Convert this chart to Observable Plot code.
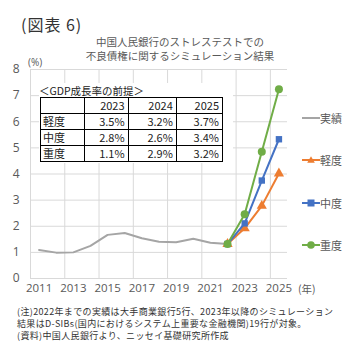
<!DOCTYPE html>
<html><head><meta charset="utf-8">
<script src="https://cdn.jsdelivr.net/npm/d3@7"></script>
<script src="https://cdn.jsdelivr.net/npm/@observablehq/plot@0.6"></script>
<style>
body{margin:0;background:#fff;}
#wrap{position:relative;width:356px;height:359px;font-family:"Noto Sans CJK JP","Noto Sans",sans-serif;color:#595959;overflow:hidden;background:#fff}
#wrap svg{position:absolute;left:0;top:0}
.abs{position:absolute;white-space:nowrap}
table.gdp{border-collapse:collapse;font-size:11px;color:#222;}
table.gdp td{border:1.5px solid #000;padding:0 3px;height:15px;line-height:15px;text-align:right}
table.gdp td.lab{text-align:left;padding-left:2px}
</style></head><body><div id="wrap"></div>
<script>
// ---- data ----
const actualYears = [2011,2012,2013,2014,2015,2016,2017,2018,2019,2020,2021,2022];
const actualValues = [1.09,0.99,1.00,1.25,1.67,1.74,1.54,1.41,1.39,1.52,1.37,1.32];
const scenarioYears = [2022,2023,2024,2025];
const mildValues = [1.32,1.92,2.78,4.02];
const moderateValues = [1.32,2.11,3.75,5.33];
const severeValues = [1.32,2.46,4.85,7.24];
const seriesNames = ["実績","軽度","中度","重度"];
const seriesColors = ["#a5a5a5","#ed7d31","#4472c4","#70ad47"];
const seriesSymbols = [null,"triangle","square","circle"];
const xTickYears = [2011,2013,2015,2017,2019,2021,2023,2025];
const yTicks = [0,1,2,3,4,5,6,7,8];
const gdpYears = ["2023","2024","2025"];
const gdpScenarios = ["軽度","中度","重度"];
const gdpMild = ["3.5%","3.2%","3.7%"];
const gdpModerate = ["2.8%","2.6%","3.4%"];
const gdpSevere = ["1.1%","2.9%","3.2%"];

const figTitle = "(図表 6)";
const chartTitle1 = "中国人民銀行のストレステストでの";
const chartTitle2 = "不良債権に関するシミュレーション結果";
const tableTitle = "＜GDP成長率の前提＞";
const yUnit = "(%)";
const xUnit = "(年)";
const notes = [
  "(注)2022年までの実績は大手商業銀行5行、2023年以降のシミュレーション",
  "結果はD-SIBs(国内におけるシステム上重要な金融機関)19行が対象。",
  "(資料)中国人民銀行より、ニッセイ基礎研究所作成"
];

// ---- build ----
const actual = actualYears.map((x,i)=>({x, y: actualValues[i]}));
const mk = vals => scenarioYears.map((x,i)=>({x, y: vals[i]}));
const mild = mk(mildValues), moderate = mk(moderateValues), severe = mk(severeValues);
const gridX = xTickYears.map(y => y - 0.5);
const font = "Open Sans, Noto Sans, sans-serif";

const chart = Plot.plot({
  width: 356, height: 359,
  marginLeft: 30, marginRight: 69, marginTop: 69, marginBottom: 81,
  style: {background: "transparent", fontFamily: font},
  x: {type: "linear", domain: [2010.5, 2025.5]},
  y: {domain: [0, 8]},
  marks: [
    Plot.ruleY(yTicks, {stroke: "#d9d9d9", strokeWidth: 1}),
    Plot.ruleX(gridX, {stroke: "#d9d9d9", strokeWidth: 1}),
    Plot.axisX(xTickYears, {tickSize: 0, tickPadding: 5, fontSize: 11.5, fill: "#595959", tickFormat: d => String(d), label: null}),
    Plot.axisY(yTicks, {tickSize: 0, tickPadding: 11, fontSize: 12, fill: "#595959", label: null}),
    Plot.line(actual, {x: "x", y: "y", stroke: seriesColors[0], strokeWidth: 2}),
    Plot.line(mild, {x: "x", y: "y", stroke: seriesColors[1], strokeWidth: 2}),
    Plot.dot(mild, {x: "x", y: "y", symbol: "triangle", fill: seriesColors[1], r: 3.8}),
    Plot.line(moderate, {x: "x", y: "y", stroke: seriesColors[2], strokeWidth: 2}),
    Plot.dot(moderate, {x: "x", y: "y", symbol: "square", fill: seriesColors[2], r: 3.6}),
    Plot.line(severe, {x: "x", y: "y", stroke: seriesColors[3], strokeWidth: 2}),
    Plot.dot(severe, {x: "x", y: "y", symbol: "circle", fill: seriesColors[3], r: 4})
  ]
});

const wrap = document.getElementById("wrap");
wrap.appendChild(chart);

function addText(txt, left, top, css) {
  const d = document.createElement("div");
  d.className = "abs";
  d.textContent = txt;
  d.style.left = left + "px"; d.style.top = top + "px";
  Object.assign(d.style, css || {});
  wrap.appendChild(d);
  return d;
}
addText(figTitle, 21, 14, {fontSize: "16px", lineHeight: "20px", color: "#333", letterSpacing: "1px"});
addText(chartTitle1, 2, 35, {width: "356px", textAlign: "center", fontSize: "10.5px", lineHeight: "14px"});
addText(chartTitle2, 2, 49, {width: "356px", textAlign: "center", fontSize: "10.5px", lineHeight: "14px"});
addText(yUnit, 28, 55, {fontSize: "10px", lineHeight: "14px", fontFamily: font});
addText(xUnit, 298, 282, {fontSize: "10.5px", lineHeight: "14px"});
notes.forEach((n, i) => addText(n, 17, 306 + i * 12, {fontSize: "9px", lineHeight: "12px", color: "#333", letterSpacing: "0.35px"}));

// table block
const box = document.createElement("div");
box.className = "abs";
Object.assign(box.style, {left: "39px", top: "83px", width: "194px", height: "80px", background: "#fff"});
wrap.appendChild(box);
const tt = document.createElement("div");
tt.className = "abs";
tt.textContent = tableTitle;
Object.assign(tt.style, {left: "0px", top: "2px", fontSize: "10.5px", lineHeight: "12px", color: "#222"});
box.appendChild(tt);
const tbl = document.createElement("table");
tbl.className = "gdp";
Object.assign(tbl.style, {position: "absolute", left: "1px", top: "14px", width: "183px"});
const widths = [46, 42, 49, 46];
let html = "<tr><td class='lab' style='width:" + widths[0] + "px'></td>" +
  gdpYears.map((y, i) => "<td style='width:" + widths[i + 1] + "px'>" + y + "</td>").join("") + "</tr>";
[gdpMild, gdpModerate, gdpSevere].forEach((row, r) => {
  html += "<tr><td class='lab'>" + gdpScenarios[r] + "</td>" + row.map(v => "<td>" + v + "</td>").join("") + "</tr>";
});
tbl.innerHTML = html;
box.appendChild(tbl);

// legend
const legendY = [118, 160, 203, 245];
seriesNames.forEach((name, i) => {
  const s = document.createElementNS("http://www.w3.org/2000/svg", "svg");
  s.setAttribute("width", 18); s.setAttribute("height", 10);
  s.style.position = "absolute"; s.style.left = "302px"; s.style.top = (legendY[i] - 5) + "px";
  const c = seriesColors[i];
  let inner = `<line x1="0" y1="5" x2="18" y2="5" stroke="${c}" stroke-width="2"/>`;
  if (seriesSymbols[i] === "triangle") inner += `<path d="M9,1.2L12.8,7.8H5.2Z" fill="${c}"/>`;
  if (seriesSymbols[i] === "square") inner += `<rect x="5.5" y="1.5" width="7" height="7" fill="${c}"/>`;
  if (seriesSymbols[i] === "circle") inner += `<circle cx="9" cy="5" r="3.8" fill="${c}"/>`;
  s.innerHTML = inner;
  wrap.appendChild(s);
  addText(name, 320, legendY[i] - 8, {fontSize: "11px", lineHeight: "16px"});
});
</script></body></html>
